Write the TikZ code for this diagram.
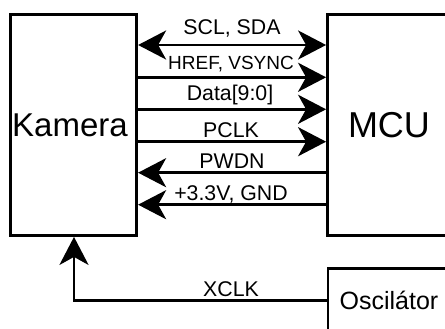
\documentclass[tikz,border=0pt]{standalone}
\usepackage{fontspec}
\setmainfont{Liberation Sans}
\usetikzlibrary{arrows.meta}
\begin{document}
\begin{tikzpicture}[x=1pt,y=-1pt,
  box/.style={draw=black, line width=2.8pt, fill=white, inner sep=0pt},
  sig/.style={draw=black, line width=2.8pt},
  tip/.tip={Stealth[length=28pt, width=29pt, inset=8pt]},
  lbl/.style={fill=white, inner sep=0.5pt, anchor=base, font=\fontsize{21.3}{24}\selectfont},
  lbls/.style={lbl, font=\fontsize{19}{22}\selectfont}]
\useasboundingbox (0,0) rectangle (445,329);
\fill[white] (0,0) rectangle (445,329);
\clip (0,0) rectangle (445,329);
\node[box, minimum width=126.5pt, minimum height=221.3pt, font=\fontsize{33}{36}\selectfont] (kam) at (73.45,124.85) {Kamera\hspace*{7pt}};
\node[box, minimum width=123pt, minimum height=221.3pt, font=\fontsize{36}{40}\selectfont] (mcu) at (389,124.85) {MCU};
\node[box, minimum width=122pt, minimum height=64pt, font=\fontsize{25}{28}\selectfont] (osc) at (389,300.7) {Oscilátor};
\coordinate (xc) at (74,300.7);
% signals
\draw[sig, tip-tip] (kam.east |- 0,45) -- (mcu.west |- 0,45);
\draw[sig, -tip] (kam.east |- 0,77.3) -- (mcu.west |- 0,77.3);
\draw[sig, -tip] (kam.east |- 0,109.3) -- (mcu.west |- 0,109.3);
\draw[sig, -tip] (kam.east |- 0,141.7) -- (mcu.west |- 0,141.7);
\draw[sig, tip-] (kam.east |- 0,172.7) -- (mcu.west |- 0,172.7);
\draw[sig, tip-] (kam.east |- 0,204.7) -- (mcu.west |- 0,204.7);
\draw[sig, -tip] (osc.west) -- (xc) -- (xc |- kam.south);
% labels
\node[lbl] (l1) at (232,35) {SCL, SDA};
\node[lbls] (l2) at (231,70) {HREF, VSYNC};
\node[lbl] (l3) at (230,100) {Data[9:0]};
\node[lbl] (l4) at (231,137.3) {PCLK};
\node[lbl] (l5) at (232,168.3) {PWDN};
\node[lbl] (l6) at (231,200) {+3.3V, GND};
\node[lbl] (l7) at (231,296) {XCLK};
\end{tikzpicture}
\end{document}
